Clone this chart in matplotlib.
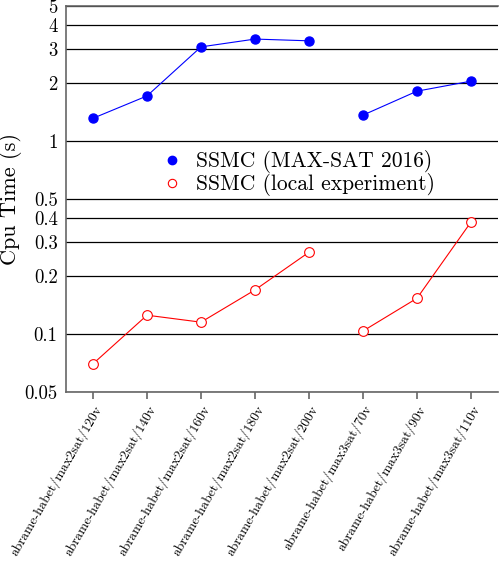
import numpy as np
import matplotlib
matplotlib.use("Agg")
import matplotlib.pyplot as plt
from matplotlib.lines import Line2D
from matplotlib.ticker import FixedLocator, FixedFormatter, NullLocator

# --- data ---
categories = ['abrame-habet/max2sat/120v', 'abrame-habet/max2sat/140v',
              'abrame-habet/max2sat/160v', 'abrame-habet/max2sat/180v',
              'abrame-habet/max2sat/200v', 'abrame-habet/max3sat/70v',
              'abrame-habet/max3sat/90v', 'abrame-habet/max3sat/110v']
groups = [0, 0, 0, 0, 0, 1, 1, 1]  # line breaks between groups
ssmc_2016 = [1.31, 1.71, 3.07, 3.37, 3.30, 1.36, 1.81, 2.04]
ssmc_local = [0.070, 0.125, 0.115, 0.169, 0.265, 0.1035, 0.153, 0.38]
ytick_vals = [0.05, 0.1, 0.2, 0.3, 0.4, 0.5, 1, 2, 3, 4, 5]
ytick_labels = ['0.05', '0.1', '0.2', '0.3', '0.4', '0.5', '1', '2', '3', '4', '5']

plt.rcParams['font.family'] = ['cmr10', 'DejaVu Serif']
plt.rcParams['axes.formatter.use_mathtext'] = True

fig = plt.figure(figsize=(4.99, 5.62), dpi=100)
ax = fig.add_axes([66 / 499, 1 - 392 / 562, 432 / 499, 386 / 562])

x = np.arange(len(categories))
groups = np.array(groups)
for g in np.unique(groups):
    m = groups == g
    ax.plot(x[m], np.array(ssmc_2016)[m], color='blue', lw=0.8, marker='o',
            ms=6.5, mfc='blue', mec='blue')
    ax.plot(x[m], np.array(ssmc_local)[m], color='red', lw=0.8, marker='o',
            ms=7, mfc='white', mec='red', mew=0.8)

ax.set_yscale('log')
ax.set_ylim(0.05, 5)
ax.set_xlim(-0.5, 7.5)
ax.yaxis.set_major_locator(FixedLocator(ytick_vals))
ax.yaxis.set_major_formatter(FixedFormatter(ytick_labels))
ax.yaxis.set_minor_locator(NullLocator())
ax.tick_params(axis='y', length=0, labelsize=13.5, pad=6)
ax.set_xticks(x)
ax.set_xticklabels(categories, rotation=60, ha='right', rotation_mode='anchor',
                   fontsize=9.7)
ax.tick_params(axis='x', direction='out', length=5, color='#666666', width=1.2,
               pad=3)

ax.grid(axis='y', color='black', lw=0.9)
ax.set_axisbelow(True)
for s in ['left', 'bottom', 'top']:
    ax.spines[s].set_color('#666666')
    ax.spines[s].set_linewidth(1.2)
ax.spines['right'].set_visible(False)

ax.set_ylabel('Cpu Time (s)', fontsize=16, labelpad=2)

handles = [Line2D([], [], ls='none', marker='o', ms=6, mfc='blue', mec='blue'),
           Line2D([], [], ls='none', marker='o', ms=6, mfc='white', mec='red',
                  mew=0.8)]
labels = ['SSMC (MAX-SAT 2016)', 'SSMC (local experiment)']
leg = ax.legend(handles, labels, loc='center', bbox_to_anchor=(0.54, 0.567),
                frameon=False, fontsize=15.5, handlelength=0.8,
                handletextpad=0.7, labelspacing=0.0, borderpad=0.2)

fig.savefig('out.png', dpi=100)
